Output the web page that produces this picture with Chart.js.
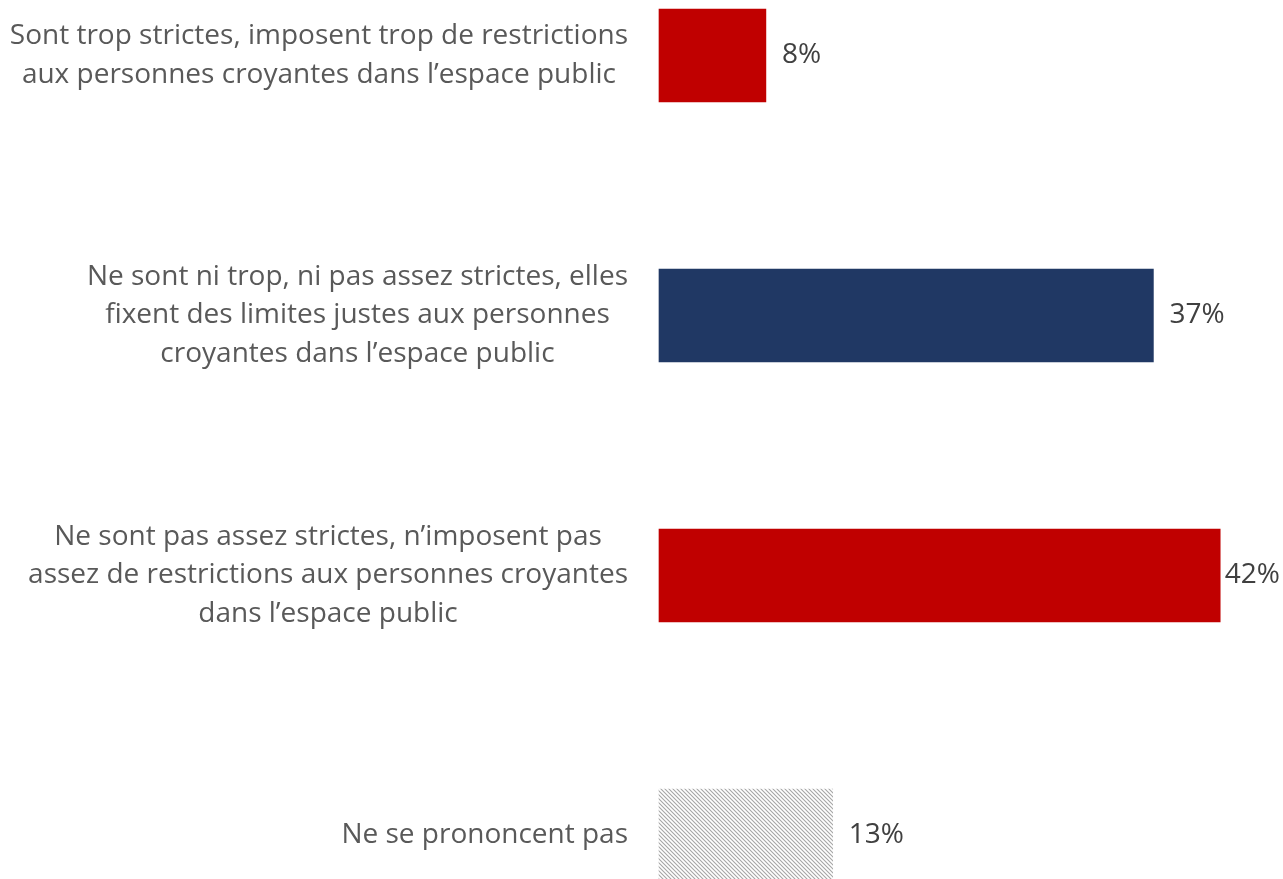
<!DOCTYPE html>
<html>
<head>
<meta charset="utf-8">
<script src="https://cdn.jsdelivr.net/npm/chart.js@4/dist/chart.umd.min.js"></script>
<style>
html,body{margin:0;padding:0;background:#fff;}
#wrap{width:1283px;height:879px;position:relative;}
</style>
</head>
<body>
<div id="wrap"><canvas id="c"></canvas></div>
<script>
const categories = [
  ["Sont trop strictes, imposent trop de restrictions", "aux personnes croyantes dans l\u2019espace public"],
  ["Ne sont ni trop, ni pas assez strictes, elles", "fixent des limites justes aux personnes", "croyantes dans l\u2019espace public"],
  ["Ne sont pas assez strictes, n\u2019imposent pas", "assez de restrictions aux personnes croyantes", "dans l\u2019espace public"],
  ["Ne se prononcent pas"]
];
const values = [8, 37, 42, 13];
const valueLabels = ["8%", "37%", "42%", "13%"];

function hatch() {
  const s = 4;
  const p = document.createElement('canvas');
  p.width = s; p.height = s;
  const g = p.getContext('2d');
  g.fillStyle = '#ffffff';
  g.fillRect(0, 0, s, s);
  g.strokeStyle = '#a6a6a6';
  g.lineWidth = 1.1;
  g.beginPath();
  g.moveTo(-1, -1); g.lineTo(s + 1, s + 1);
  g.moveTo(-1, s - 1); g.lineTo(1, s + 1);
  g.moveTo(s - 1, -1); g.lineTo(s + 1, 1);
  g.stroke();
  return document.getElementById('c').getContext('2d').createPattern(p, 'repeat');
}
const colors = ['#C00000', '#203864', '#C00000', hatch()];

const FONT = '"Open Sans", Lato, sans-serif';
const labelPlugin = {
  id: 'labels',
  afterDraw(chart) {
    const ctx = chart.ctx;
    const y = chart.scales.y;
    const meta = chart.getDatasetMeta(0);
    ctx.save();
    ctx.font = '28px ' + FONT;
    ctx.fillStyle = '#595959';
    ctx.textBaseline = 'middle';
    ctx.textAlign = 'center';
    const lh = 38.5;
    const rightEdge = 628;
    categories.forEach((lines, i) => {
      const cy = y.getPixelForValue(i);
      const widest = Math.max(...lines.map(l => ctx.measureText(l).width));
      const cx = rightEdge - widest / 2;
      lines.forEach((l, j) => {
        ctx.fillText(l, cx, cy + (j - (lines.length - 1) / 2) * lh);
      });
    });
    ctx.fillStyle = '#404040';
    ctx.textAlign = 'left';
    values.forEach((v, i) => {
      const bar = meta.data[i];
      const w = ctx.measureText(valueLabels[i]).width;
      const tx = Math.min(bar.x + 16, chart.width - w - 3);
      ctx.fillText(valueLabels[i], tx, bar.y);
    });
    ctx.restore();
  }
};

new Chart(document.getElementById('c'), {
  type: 'bar',
  data: {
    labels: categories.map(c => c.join(' ')),
    datasets: [{
      data: values,
      backgroundColor: colors,
      borderWidth: 0,
      barThickness: 93,
      clip: false
    }]
  },
  options: {
    indexAxis: 'y',
    responsive: true,
    maintainAspectRatio: false,
    animation: false,
    layout: { padding: { left: 659, right: 0, top: 55.5, bottom: 43.5 } },
    plugins: { legend: { display: false }, tooltip: { enabled: false } },
    scales: {
      x: { display: false, min: 0, max: 46.7 },
      y: { display: false, offset: false }
    }
  },
  plugins: [labelPlugin]
});
</script>
</body>
</html>
